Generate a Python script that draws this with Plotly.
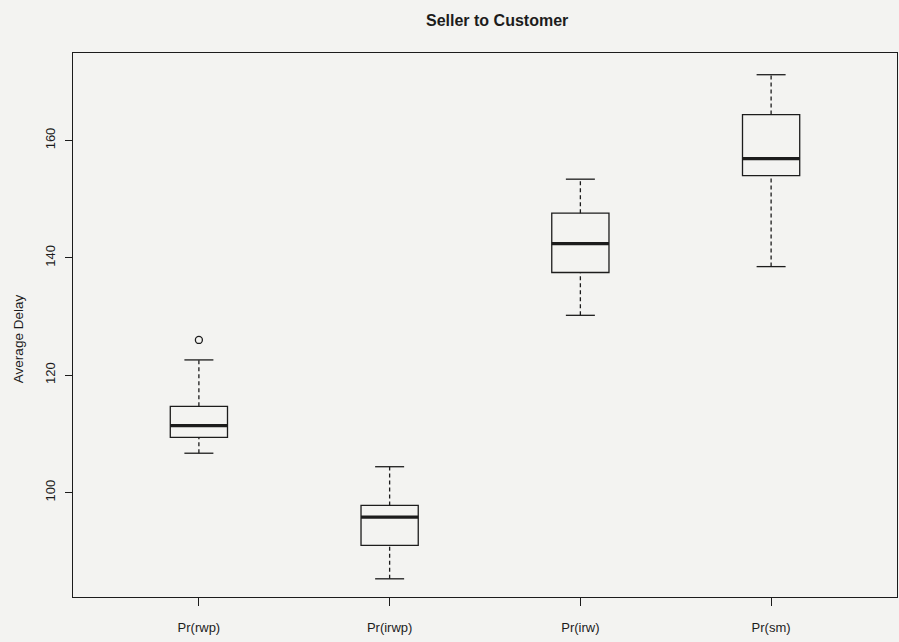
import plotly.graph_objects as go

# ---- data ----
categories = ["Pr(rwp)", "Pr(irwp)", "Pr(irw)", "Pr(sm)"]
lower_whisker = [106.7, 85.3, 130.2, 138.5]
q1_values = [109.4, 91.0, 137.5, 154.0]
medians = [111.4, 95.8, 142.4, 156.9]
q3_values = [114.7, 97.8, 147.6, 164.4]
upper_whisker = [122.6, 104.4, 153.4, 171.2]
outlier_cat = ["Pr(rwp)"]
outlier_vals = [126.0]
y_ticks = [100, 120, 140, 160]

INK = "#1c1c1c"
BG = "#f3f3f1"
FONT = "Liberation Sans, Arial, sans-serif"
BOX_HALF = 0.15
CAP_HALF = 0.076

pos = {c: i + 1 for i, c in enumerate(categories)}
xs = [pos[c] for c in categories]

fig = go.Figure()

# boxes (no built-in whiskers; drawn dashed below)
for i, c in enumerate(categories):
    fig.add_trace(go.Box(
        x=[xs[i]], q1=[q1_values[i]], median=[medians[i]], q3=[q3_values[i]],
        lowerfence=[q1_values[i]], upperfence=[q3_values[i]],
        width=2 * BOX_HALF, boxpoints=False,
        fillcolor="rgba(0,0,0,0)", line=dict(color=INK, width=1.3),
        showlegend=False, hoverinfo="skip",
    ))

# dashed whiskers
wx, wy = [], []
for i in range(len(categories)):
    wx += [xs[i], xs[i], None, xs[i], xs[i], None]
    wy += [lower_whisker[i], q1_values[i], None, q3_values[i], upper_whisker[i], None]
fig.add_trace(go.Scatter(x=wx, y=wy, mode="lines",
                         line=dict(color=INK, width=1.3, dash="4px,3px"),
                         showlegend=False, hoverinfo="skip"))

# whisker caps
cx, cy = [], []
for i in range(len(categories)):
    for v in (lower_whisker[i], upper_whisker[i]):
        cx += [xs[i] - CAP_HALF, xs[i] + CAP_HALF, None]
        cy += [v, v, None]
fig.add_trace(go.Scatter(x=cx, y=cy, mode="lines",
                         line=dict(color=INK, width=1.3),
                         showlegend=False, hoverinfo="skip"))

# thick medians
mx, my = [], []
for i in range(len(categories)):
    mx += [xs[i] - BOX_HALF, xs[i] + BOX_HALF, None]
    my += [medians[i], medians[i], None]
fig.add_trace(go.Scatter(x=mx, y=my, mode="lines",
                         line=dict(color=INK, width=3.2),
                         showlegend=False, hoverinfo="skip"))

# outliers
fig.add_trace(go.Scatter(x=[pos[c] for c in outlier_cat], y=outlier_vals, mode="markers",
                         marker=dict(symbol="circle-open", size=7, color=INK,
                                     line=dict(width=1.3, color=INK)),
                         showlegend=False, hoverinfo="skip"))

fig.update_layout(
    width=899, height=642,
    margin=dict(l=73, r=2, t=53, b=45),
    paper_bgcolor=BG, plot_bgcolor=BG,
    font=dict(family=FONT, color=INK, size=13),
    title=dict(text="<b>Seller to Customer</b>", x=0.553, xref="container",
               xanchor="center", y=1 - 20 / 642, yanchor="middle",
               font=dict(size=16, family=FONT, color=INK)),
    showlegend=False,
    annotations=[dict(text="Average Delay", textangle=-90, xref="paper", yref="paper",
                      x=0, xshift=-55, y=0.474, xanchor="center", yanchor="middle",
                      showarrow=False, font=dict(size=13.5, family=FONT, color=INK))],
)
fig.update_xaxes(
    range=[0.34, 4.66], tickvals=xs, ticktext=categories,
    showgrid=False, zeroline=False, showline=True, mirror=True,
    linecolor=INK, linewidth=1.3, ticks="outside", ticklen=8, tickcolor=INK,
    tickwidth=1.2, ticklabelstandoff=10, tickfont=dict(size=13),
)
fig.update_yaxes(
    range=[82.2, 174.9], tickvals=y_ticks, ticktext=[str(t) for t in y_ticks],
    showgrid=False, zeroline=False, showline=True, mirror=True,
    linecolor=INK, linewidth=1.3, ticks="outside", ticklen=7, tickcolor=INK,
    tickwidth=1.2, tickangle=-90, ticklabelstandoff=5, tickfont=dict(size=13),
)

fig.write_html(
    "out.html",
    config={"displayModeBar": False},
    post_script="document.body.style.margin='0';document.body.style.overflow='hidden';"
                "document.body.style.background='%s';" % BG,
)
